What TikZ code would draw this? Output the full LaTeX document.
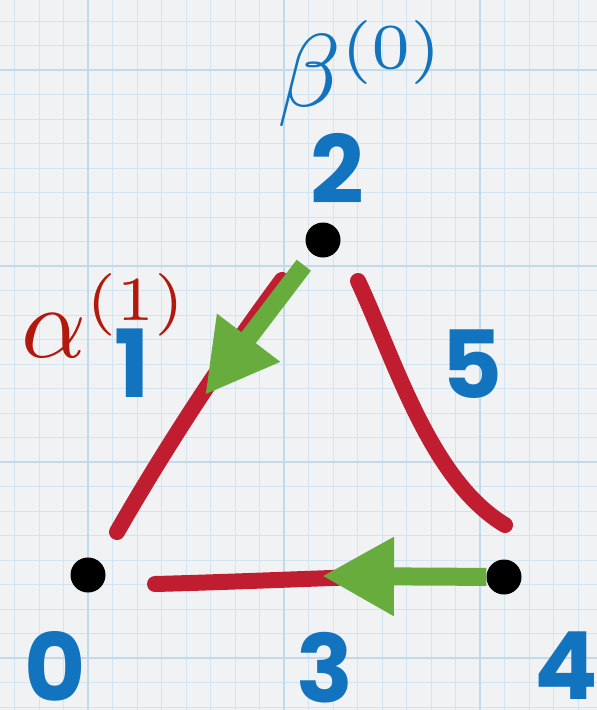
\RequirePackage{fix-cm}
\documentclass[tikz,border=0pt]{standalone}
\usepackage{graphicx}
\usepackage{fontspec}
\newfontfamily\handfont{Poppins}
\DeclareMathSizes{11}{11}{6.8}{4.5}
\usetikzlibrary{arrows.meta,calc}
\definecolor{paper}{RGB}{241,242,243}
\definecolor{gridminor}{RGB}{210,228,239}
\definecolor{gridmajor}{RGB}{194,219,236}
\definecolor{labelblue}{RGB}{18,116,190}
\definecolor{alphared}{RGB}{178,24,12}
\definecolor{strokered}{RGB}{192,30,48}
\definecolor{arrowgreen}{RGB}{104,172,62}
\begin{document}
\begin{tikzpicture}[x=1pt,y=-1pt,
    dot/.style={circle,fill=black,minimum size=35pt,inner sep=0pt},
    edge/.style={draw=strokered,line width=16pt,line cap=round},
    flow/.style={draw=arrowgreen,line width=18pt,-{Triangle[length=72pt,width=74pt]}},
    num/.style={text=labelblue,inner sep=0pt,font=\handfont\bfseries\fontsize{94}{94}\selectfont},
    mlab/.style={inner sep=0pt,anchor=base west,font=\fontsize{11}{13}\selectfont},
    minor/.style={draw=gridminor,line width=1pt},
    major/.style={draw=gridmajor,line width=2pt}
  ]
  %% paper
  \fill[paper] (0,0) rectangle (597,710);
  \useasboundingbox (0,0) rectangle (597,710);
  \foreach \k in {-3,...,20}
    \draw[minor] ({88+24.5*\k},0) -- ({88+24.5*\k},710);
  \foreach \k in {-2,...,26}
    \draw[minor] (0,{70+24.5*\k}) -- (597,{70+24.5*\k});
  \foreach \k in {0,8,16}
    \draw[major] ({88+24.5*\k},0) -- ({88+24.5*\k},710);
  \foreach \k in {0,8,16,24}
    \draw[major] (0,{70+24.5*\k}) -- (597,{70+24.5*\k});
  %% vertices
  \node[dot] (d0) at (88,575) {};
  \node[dot] (d2) at (323,240) {};
  \node[dot] (d4) at (504,577) {};
  %% red edges, drawn short of the vertices
  \coordinate (e1a) at ($(d0)+(29,-43)$);
  \coordinate (e1b) at ($(d2)+(-41,40)$);
  \coordinate (e5a) at ($(d2)+(35,41)$);
  \coordinate (e5b) at ($(d4)+(1,-52)$);
  \coordinate (e3a) at ($(d0)+(67,9)$);
  \coordinate (e3b) at ($(d4)+(-144,0)$);
  \draw[edge] (e1a) .. controls (167,445) and (222,361) .. (e1b);
  \draw[edge] (e5a) .. controls (395,360) and (430,480) .. (e5b);
  \draw[edge] (e3a) .. controls (230,582) and (300,579) .. (e3b);
  %% green arrows
  \coordinate (t1) at (205,395);
  \coordinate (t3) at (322,576);
  \draw[flow,shorten <=14pt] (d2) -- (t1);
  \draw[flow] (d4) -- (t3);
  %% labels
  \node[num] (n0) at (55,666) {0};
  \node[num] (n1) at (132,363) {1};
  \node[num] (n2) at (337,168) {2};
  \node[num] (n3) at (325,668) {3};
  \node[num] (n4) at (566,666) {4};
  \node[num] (n5) at (472,364) {5};
  \node[mlab,text=labelblue] (beta) at (277,106) {\scalebox{9.4}{$\beta^{(0)}$}};
  \node[mlab,text=alphared] (alpha) at (21,357) {\scalebox{9.2}{$\alpha^{(1)}$}};
\end{tikzpicture}
\end{document}
